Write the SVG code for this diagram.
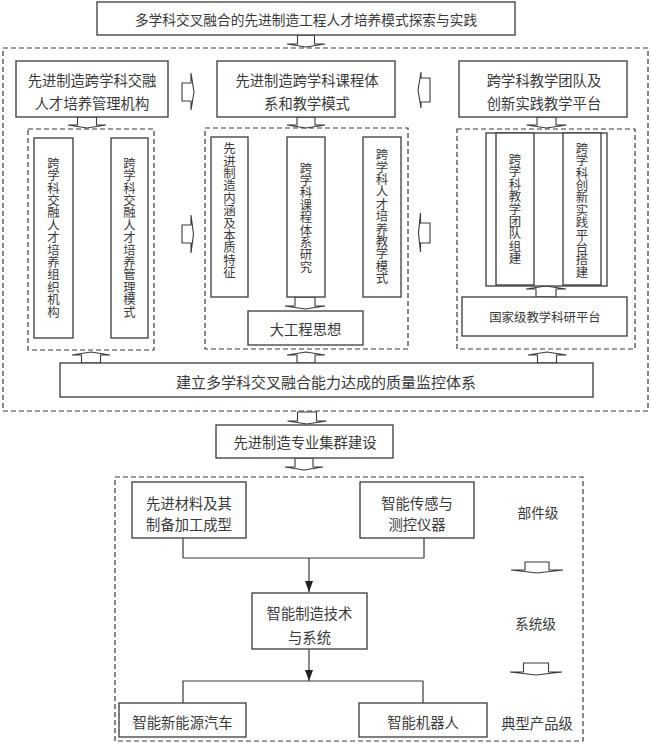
<svg xmlns="http://www.w3.org/2000/svg" width="651" height="744" viewBox="0 0 651 744">
<style>
.box{fill:#fff;stroke:#3a3a3a;stroke-width:1.3}
.dash{fill:none;stroke:#3a3a3a;stroke-width:1.2;stroke-dasharray:5,3}
.blk{fill:#fff;stroke:#3a3a3a;stroke-width:1.1}
.ln{fill:none;stroke:#3a3a3a;stroke-width:1.2}
text{font-family:"Noto Sans CJK SC","Noto Sans",sans-serif;fill:#3a3a3a;dominant-baseline:central;text-anchor:middle}
.t{font-size:14.3px}
.v{font-size:12.4px;writing-mode:vertical-rl}
</style>
<defs>
<marker id="ah" markerWidth="11" markerHeight="8" refX="11" refY="4" orient="auto" markerUnits="userSpaceOnUse" viewBox="0 0 11 8">
<path d="M0,0 L11,4 L0,8 Z" fill="#222"/>
</marker>
</defs>

<g id="frames">
<rect class="dash" x="3" y="48" width="645" height="363"/>
<rect class="dash" x="28" y="129" width="126" height="221"/>
<rect class="dash" x="205" y="128" width="203" height="221"/>
<rect class="dash" x="457" y="129" width="178" height="220"/>
<rect class="dash" x="115" y="477" width="468" height="264"/>
</g>

<g id="connectors">
<path class="blk" d="M297.5,35 L314.5,35 L314.5,44 L325,44 L306,47 L287,44 L297.5,44 Z"/>
<path class="blk" d="M77.5,117 L96.5,117 L96.5,125 L106,125 L87,128 L68,125 L77.5,125 Z"/>
<path class="blk" d="M297,117 L315,117 L315,125 L325,125 L306,128 L287,125 L297,125 Z"/>
<path class="blk" d="M537,117 L556,117 L556,125 L566.5,125 L546.5,128 L526.5,125 L537,125 Z"/>
<path class="blk" d="M295,297 L315,297 L315,306 L325,306 L305,309 L285,306 L295,306 Z"/>
<path class="blk" d="M536,297 L536,289 L526,289 L546,286 L566,289 L556,289 L556,297 Z"/>
<path class="blk" d="M81.5,363 L81.5,355 L72,355 L91,352 L110,355 L100.5,355 L100.5,363 Z"/>
<path class="blk" d="M297,363 L297,355 L287,355 L306,352 L325,355 L315,355 L315,363 Z"/>
<path class="blk" d="M537.5,363 L537.5,355 L528,355 L547,352 L566.5,355 L556.5,355 L556.5,363 Z"/>
<path class="blk" d="M297.5,412 L316.5,412 L316.5,421 L326.5,421 L307,424 L287.5,421 L297.5,421 Z"/>
<path class="blk" d="M295,458 L313,458 L313,467 L323,467 L304,470 L285,467 L295,467 Z"/>
<path class="blk" d="M525,562 L549,562 L549,570 L563,570 L537,573 L511,570 L525,570 Z"/>
<path class="blk" d="M523.5,663 L548.5,663 L548.5,672 L562,672 L536,675 L510,672 L523.5,672 Z"/>
<path class="blk" d="M182,83 L191,83 L191,73 L194,92 L191,110 L191,101 L182,101 Z"/>
<path class="blk" d="M182,225 L191,225 L191,215 L193.5,234 L191,253 L191,243 L182,243 Z"/>
<path class="blk" d="M430,78 L421,78 L421,72 L418,90 L421,108 L421,102 L430,102 Z"/>
<path class="blk" d="M430,223 L420.5,223 L420.5,213 L418.5,233 L420.5,252 L420.5,243 L430,243 Z"/>
<path class="ln" d="M183,538 V558 M424,538 V558 M183,558 H424"/>
<path class="ln" d="M309,558 V592" marker-end="url(#ah)"/>
<path class="ln" d="M309,649 V681" marker-end="url(#ah)"/>
<path class="ln" d="M183,703 V681 H423 V703"/>
</g>

<g id="title"><rect class="box" x="97" y="2" width="418" height="33"/><text x="306" y="18.5" style="font-size:13.7px">多学科交叉融合的先进制造工程人才培养模式探索与实践</text></g>

<g id="mgmt"><rect class="box" x="16" y="61" width="152" height="56"/><text class="t" x="92" y="79">先进制造跨学科交融</text><text class="t" x="92" y="102">人才培养管理机构</text></g>
<g id="course"><rect class="box" x="217" y="61" width="178" height="56"/><text class="t" x="307" y="79">先进制造跨学科课程体</text><text class="t" x="307" y="102">系和教学模式</text></g>
<g id="team"><rect class="box" x="459" y="61" width="168" height="56"/><text class="t" x="544" y="79">跨学科教学团队及</text><text class="t" x="544" y="102">创新实践教学平台</text></g>

<g id="org"><rect class="box" x="34" y="138" width="39" height="200"/><text class="v" x="53.5" y="237.5">跨学科交融人才培养组织机构</text></g>
<g id="mode"><rect class="box" x="111" y="138" width="37" height="200"/><text class="v" x="129.5" y="237.5">跨学科交融人才培养管理模式</text></g>

<g id="connot"><rect class="box" x="211" y="137" width="37" height="160"/><text class="v" x="229.5" y="210.5">先进制造内涵及本质特征</text></g>
<g id="system"><rect class="box" x="287" y="137" width="38" height="160"/><text class="v" x="306" y="217.5">跨学科课程体系研究</text></g>
<g id="teach"><rect class="box" x="363" y="137" width="38" height="160"/><text class="v" x="382" y="216.5">跨学科人才培养教学模式</text></g>
<g id="bigeng"><rect class="box" x="248" y="311" width="115" height="34"/><text class="t" x="305.5" y="328.5">大工程思想</text></g>

<g id="teamframe"><rect class="box" x="486" y="133" width="121" height="153"/></g>
<g id="teambuild"><rect class="box" x="496" y="133" width="38" height="152"/><text class="v" x="515" y="209">跨学科教学团队组建</text></g>
<g id="platform"><rect class="box" x="563" y="133" width="38" height="152"/><text class="v" x="582" y="210">跨学科创新实践平台搭建</text></g>
<g id="national"><rect class="box" x="462" y="297" width="165" height="39"/><text x="545" y="316.5" style="font-size:12.4px">国家级教学科研平台</text></g>

<g id="quality"><rect class="box" x="60" y="363" width="533" height="34"/><text x="326" y="381" style="font-size:15px">建立多学科交叉融合能力达成的质量监控体系</text></g>
<g id="cluster"><rect class="box" x="216" y="425" width="177" height="33"/><text class="t" x="305" y="441.5">先进制造专业集群建设</text></g>

<g id="material"><rect class="box" x="132" y="482" width="114" height="56"/><text class="t" x="189" y="502">先进材料及其</text><text class="t" x="189" y="523">制备加工成型</text></g>
<g id="sensor"><rect class="box" x="360" y="482" width="114" height="56"/><text class="t" x="417" y="502">智能传感与</text><text class="t" x="417" y="523">测控仪器</text></g>
<g id="smart"><rect class="box" x="252" y="593" width="115" height="56"/><text class="t" x="309.5" y="612">智能制造技术</text><text class="t" x="309.5" y="636">与系统</text></g>
<g id="car"><rect class="box" x="119" y="703" width="127" height="34"/><text class="t" x="182.5" y="721">智能新能源汽车</text></g>
<g id="robot"><rect class="box" x="359" y="703" width="128" height="34"/><text class="t" x="423" y="721">智能机器人</text></g>

<g id="levels">
<text x="538" y="512" style="font-size:13.7px">部件级</text>
<text x="535.5" y="623" style="font-size:13.7px">系统级</text>
<text x="537" y="722.5" style="font-size:14.3px">典型产品级</text>
</g>
</svg>
